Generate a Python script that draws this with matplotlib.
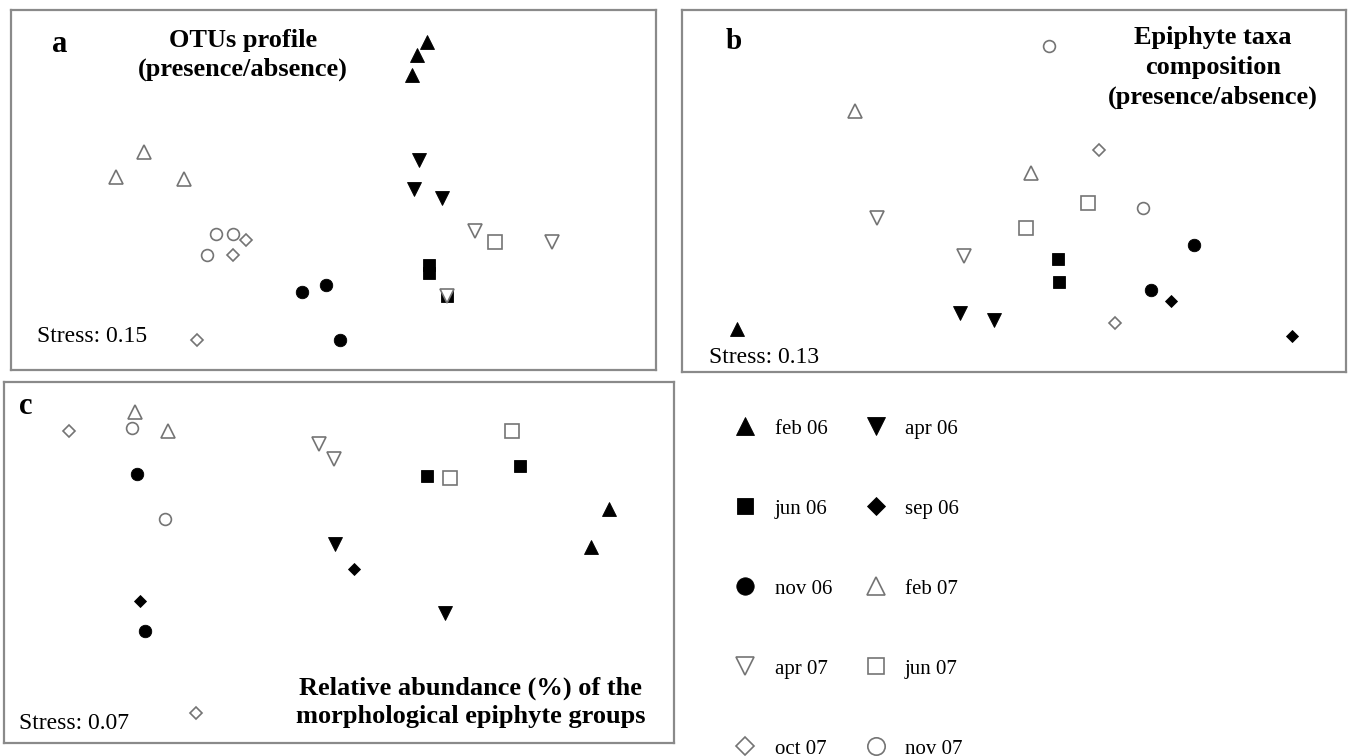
import matplotlib
matplotlib.use("Agg")
import matplotlib.pyplot as plt
from matplotlib.lines import Line2D

plt.rcParams['font.family'] = ['Liberation Serif', 'DejaVu Serif']

# ---------------- data (NMDS coordinates, arbitrary units) ----------------
A_group = ['feb 06', 'feb 06', 'feb 06', 'apr 06', 'apr 06', 'apr 06',
           'jun 06', 'jun 06', 'jun 06', 'nov 06', 'nov 06', 'nov 06',
           'feb 07', 'feb 07', 'feb 07', 'apr 07', 'apr 07', 'apr 07',
           'jun 07', 'nov 07', 'nov 07', 'nov 07', 'oct 07', 'oct 07', 'oct 07']
A_x = [4.16, 4.06, 4.01, 4.08, 4.03, 4.31,
       4.18, 4.18, 4.36, 2.91, 3.15, 3.29,
       1.33, 1.05, 1.73, 4.64, 5.41, 4.36,
       4.84, 2.05, 2.22, 1.96, 2.35, 2.22, 1.86]
A_y = [3.28, 3.15, 2.95, 2.10, 1.81, 1.72,
       1.05, 0.97, 0.74, 0.78, 0.85, 0.30,
       2.18, 1.93, 1.91, 1.39, 1.28, 0.74,
       1.28, 1.36, 1.36, 1.15, 1.30, 1.15, 0.30]

B_group = ['feb 06', 'apr 06', 'apr 06', 'jun 06', 'jun 06', 'sep 06', 'sep 06',
           'nov 06', 'nov 06', 'feb 07', 'feb 07', 'apr 07', 'apr 07',
           'jun 07', 'jun 07', 'oct 07', 'oct 07', 'nov 07', 'nov 07']
B_x = [0.55, 2.78, 3.12, 3.76, 3.77, 4.89, 6.10,
       5.12, 4.69, 1.73, 3.49, 1.95, 2.82,
       4.06, 3.44, 4.17, 4.33, 3.67, 4.61]
B_y = [0.43, 0.59, 0.52, 1.13, 0.90, 0.71, 0.36,
       1.27, 0.82, 2.61, 1.99, 1.54, 1.16,
       1.69, 1.44, 2.22, 0.49, 3.26, 1.64]

C_group = ['feb 06', 'feb 06', 'apr 06', 'apr 06', 'jun 06', 'jun 06', 'sep 06', 'sep 06',
           'nov 06', 'nov 06', 'feb 07', 'feb 07', 'apr 07', 'apr 07',
           'jun 07', 'jun 07', 'oct 07', 'oct 07', 'nov 07', 'nov 07']
C_x = [6.05, 5.87, 3.31, 4.41, 4.23, 5.16, 1.36, 3.50,
       1.33, 1.41, 1.31, 1.64, 3.15, 3.30,
       4.46, 5.08, 0.65, 1.92, 1.28, 1.61]
C_y = [2.34, 1.96, 1.99, 1.30, 2.67, 2.77, 1.42, 1.74,
       2.69, 1.12, 3.31, 3.12, 2.99, 2.84,
       2.65, 3.12, 3.12, 0.30, 3.15, 2.24]

legend_order = ['feb 06', 'jun 06', 'nov 06', 'apr 07', 'oct 07',
                'apr 06', 'sep 06', 'feb 07', 'jun 07', 'nov 07']

# ---------------- styles ----------------
GRAY = '#747474'
style = {
    'feb 06': dict(marker='^', filled=True, ms=9.5),
    'apr 06': dict(marker='v', filled=True, ms=9.5),
    'jun 06': dict(marker='s', filled=True, ms=9.0),
    'sep 06': dict(marker='D', filled=True, ms=6.0),
    'nov 06': dict(marker='o', filled=True, ms=9.0),
    'feb 07': dict(marker='^', filled=False, ms=10.0),
    'apr 07': dict(marker='v', filled=False, ms=10.0),
    'jun 07': dict(marker='s', filled=False, ms=9.5),
    'oct 07': dict(marker='D', filled=False, ms=6.5),
    'nov 07': dict(marker='o', filled=False, ms=8.5),
}
leg_ms = {'^': 13.0, 'v': 13.0, 's': 12.0, 'D': 9.0, 'o': 12.5}


def kw(g, ms=None):
    s = style[g]
    m = s['marker']
    size = s['ms'] if ms is None else ms
    if s['filled']:
        return dict(marker=m, markersize=size, markerfacecolor='black',
                    markeredgecolor='black', markeredgewidth=0.6, linestyle='none')
    return dict(marker=m, markersize=size, markerfacecolor='white',
                markeredgecolor=GRAY, markeredgewidth=1.2, linestyle='none')


W, H = 1353, 756
fig = plt.figure(figsize=(W / 100, H / 100), dpi=100)


def box_axes(x0, y0, x1, y1):
    ax = fig.add_axes([x0 / W, 1 - y1 / H, (x1 - x0) / W, (y1 - y0) / H])
    ax.set_xlim(0, (x1 - x0) / 100)
    ax.set_ylim(0, (y1 - y0) / 100)
    ax.set_xticks([])
    ax.set_yticks([])
    for sp in ax.spines.values():
        sp.set_color('#8a8a8a')
        sp.set_linewidth(1.6)
    return ax


def draw_points(ax, groups, xs, ys):
    # filled symbols first, open symbols drawn on top
    for filled in (True, False):
        for g, x, y in zip(groups, xs, ys):
            if style[g]['filled'] == filled:
                ax.plot([x], [y], **kw(g))


# Panel a
axA = box_axes(11, 10, 656, 370)
draw_points(axA, A_group, A_x, A_y)
axA.text(0.076, 0.905, 'a', transform=axA.transAxes, fontsize=22,
         fontweight='bold', ha='center', va='center')
axA.text(0.36, 0.876, 'OTUs profile\n(presence/absence)', transform=axA.transAxes,
         fontsize=19, fontweight='bold', ha='center', va='center',
         multialignment='center', linespacing=1.32)
axA.text(0.040, 0.094, 'Stress: 0.15', transform=axA.transAxes, fontsize=17,
         ha='left', va='center')

# Panel b
axB = box_axes(682, 10, 1346, 372)
draw_points(axB, B_group, B_x, B_y)
axB.text(0.078, 0.912, 'b', transform=axB.transAxes, fontsize=21,
         fontweight='bold', ha='center', va='center')
axB.text(0.80, 0.840, 'Epiphyte taxa\ncomposition\n(presence/absence)',
         transform=axB.transAxes, fontsize=19, fontweight='bold', ha='center',
         va='center', multialignment='center', linespacing=1.38)
axB.text(0.041, 0.039, 'Stress: 0.13', transform=axB.transAxes, fontsize=17,
         ha='left', va='center')

# Panel c
axC = box_axes(4, 382, 674, 743)
draw_points(axC, C_group, C_x, C_y)
axC.text(0.033, 0.932, 'c', transform=axC.transAxes, fontsize=22,
         fontweight='bold', ha='center', va='center')
axC.text(0.696, 0.113, 'Relative abundance (%) of the\nmorphological epiphyte groups',
         transform=axC.transAxes, fontsize=19, fontweight='bold', ha='center',
         va='center', multialignment='center', linespacing=1.3)
axC.text(0.023, 0.053, 'Stress: 0.07', transform=axC.transAxes, fontsize=17,
         ha='left', va='center')

# Legend
handles = [Line2D([], [], **kw(g, leg_ms[style[g]['marker']])) for g in legend_order]
fig.legend(handles, legend_order, ncol=2, loc='upper left',
           bbox_to_anchor=(734 / W, 1 - 419 / H), frameon=False, fontsize=15,
           handlelength=1.1, handletextpad=0.85, columnspacing=1.55,
           labelspacing=2.9, borderaxespad=0, borderpad=0)

fig.savefig('out.png', dpi=100)
